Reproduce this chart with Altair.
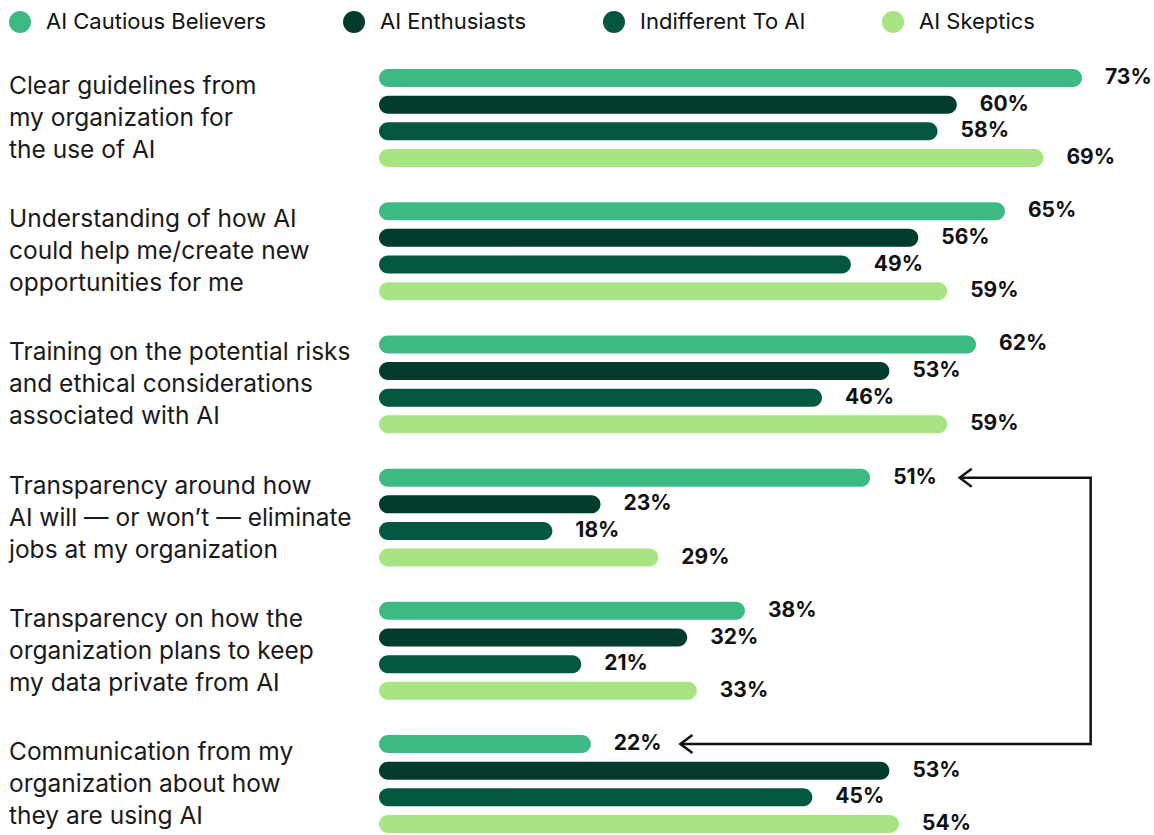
import altair as alt
import pandas as pd

categories = [
    "Clear guidelines from\nmy organization for\nthe use of AI",
    "Understanding of how AI\ncould help me/create new\nopportunities for me",
    "Training on the potential risks\nand ethical considerations\nassociated with AI",
    "Transparency around how\nAI will \u2014 or won\u2019t \u2014 eliminate\njobs at my organization",
    "Transparency on how the\norganization plans to keep\nmy data private from AI",
    "Communication from my\norganization about how\nthey are using AI",
]
series = ["AI Cautious Believers", "AI Enthusiasts", "Indifferent To AI", "AI Skeptics"]
colors = ["#3dba84", "#003b2c", "#035741", "#a8e484"]

cautious = [73, 65, 62, 51, 38, 22]
enthusiasts = [60, 56, 53, 23, 32, 53]
indifferent = [58, 49, 46, 18, 21, 45]
skeptics = [69, 59, 59, 29, 33, 54]

# annotation arrow (data units: x in %, y in row index)
arrow_x = [60.3, 73.9, 73.9, 31.3]
arrow_row = [15, 15, 25, 25]
arrow_tip_x = [60.3, 31.3]
arrow_tip_row = [15, 25]

FONT = "Inter"

rows = []
for gi, cat in enumerate(categories):
    for si, (s, vals) in enumerate(zip(series, [cautious, enthusiasts, indifferent, skeptics])):
        rows.append({"category": cat, "series": s, "value": vals[gi], "row": gi * 5 + si,
                     "label": f"{vals[gi]}%"})
df = pd.DataFrame(rows)

cat_df = pd.DataFrame({"category": categories, "row": [gi * 5 + 1.5 for gi in range(len(categories))]})
arrow_df = pd.DataFrame({"x": arrow_x, "row": arrow_row, "order": list(range(len(arrow_x)))})
tip_df = pd.DataFrame({"x": arrow_tip_x, "row": arrow_tip_row})

xs = alt.Scale(domain=[0, 100], range=[379, 1342])
ys = alt.Scale(domain=[0, 28], range=[73, 829], nice=False, zero=False)

bars = alt.Chart(df).mark_bar(cornerRadius=9, size=18, orient="horizontal").encode(
    x=alt.X("value:Q", scale=xs, axis=None, stack=None),
    y=alt.Y("row:Q", scale=ys, axis=None),
    color=alt.Color("series:N", scale=alt.Scale(domain=series, range=colors),
                    legend=alt.Legend(orient="none", legendX=9, legendY=11, direction="horizontal",
                                      columns=4, title=None, symbolType="circle", symbolSize=484,
                                      symbolStrokeWidth=0, labelFontSize=22, labelFont=FONT,
                                      labelColor="#111111", labelOffset=15, columnPadding=76,
                                      padding=0, labelLimit=400)),
)

values = alt.Chart(df).mark_text(align="left", baseline="middle", dx=23, fontSize=21,
                                 fontWeight="bold", font=FONT, color="#111111").encode(
    x=alt.X("value:Q", scale=xs),
    y=alt.Y("row:Q", scale=ys),
    text="label:N",
)

cat_text = alt.Chart(cat_df).mark_text(align="left", baseline="middle", dy=-31, fontSize=24.5,
                                       font=FONT, color="#1a1a1a", lineBreak="\n",
                                       lineHeight=32).encode(
    x=alt.value(9),
    y=alt.Y("row:Q", scale=ys),
    text="category:N",
)

arrow_line = alt.Chart(arrow_df).mark_line(color="#111111", strokeWidth=2.5).encode(
    x=alt.X("x:Q", scale=xs),
    y=alt.Y("row:Q", scale=ys),
    order="order:Q",
)

tips = alt.Chart(tip_df).mark_point(shape="M1,-0.75L0,0L1,0.75", size=576, filled=False,
                                    color="#111111", strokeWidth=2.5, opacity=1).encode(
    x=alt.X("x:Q", scale=xs),
    y=alt.Y("row:Q", scale=ys),
)

chart = alt.layer(bars, values, cat_text, arrow_line, tips).properties(
    width=1154, height=835, padding=0,
    autosize=alt.AutoSizeParams(type="none"),
).configure_view(stroke=None)

chart.save("out.html", embed_options={"renderer": "svg", "actions": False})
